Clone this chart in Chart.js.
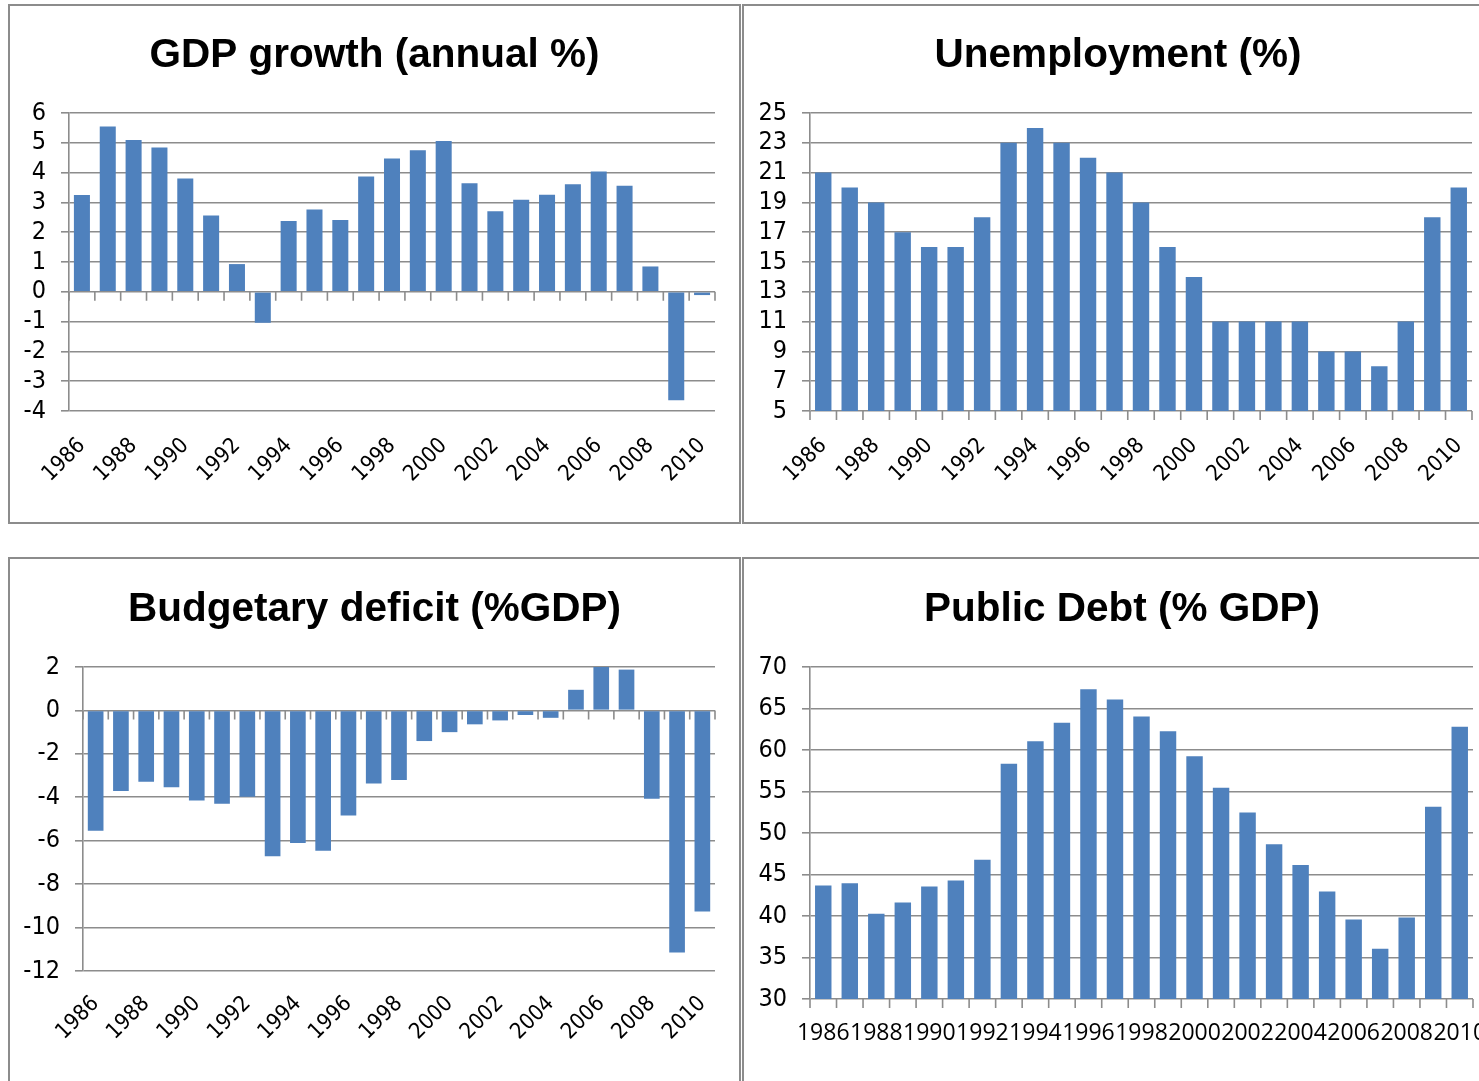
<!DOCTYPE html>
<html>
<head>
<meta charset="utf-8">
<script src="https://cdn.jsdelivr.net/npm/chart.js@4.4.1/dist/chart.umd.min.js"></script>
<style>
html,body{margin:0;padding:0;background:#fff;overflow:hidden;width:1479px;height:1081px;position:relative;}
canvas{position:absolute;}
.frame{position:absolute;border:2px solid #8c8c8c;box-sizing:border-box;pointer-events:none;}
</style>
</head>
<body>
<canvas id="c1" width="733" height="520" style="left:8px;top:4px;width:733px;height:520px"></canvas>
<canvas id="c2" width="752" height="520" style="left:742px;top:4px;width:752px;height:520px"></canvas>
<canvas id="c3" width="733" height="524" style="left:8px;top:557px;width:733px;height:524px"></canvas>
<canvas id="c4" width="760" height="524" style="left:742px;top:557px;width:760px;height:524px"></canvas>
<div class="frame" style="left:8px;top:4px;width:733px;height:520px"></div>
<div class="frame" style="left:742px;top:4px;width:760px;height:520px"></div>
<div class="frame" style="left:8px;top:557px;width:733px;height:540px"></div>
<div class="frame" style="left:742px;top:557px;width:760px;height:540px"></div>
<script>
// ---- data ----
const years = ['1986','1987','1988','1989','1990','1991','1992','1993','1994','1995','1996','1997','1998','1999','2000','2001','2002','2003','2004','2005','2006','2007','2008','2009','2010'];
const gdpGrowth = [3.25, 5.55, 5.09, 4.84, 3.80, 2.56, 0.93, -1.04, 2.38, 2.76, 2.41, 3.87, 4.47, 4.75, 5.06, 3.64, 2.70, 3.09, 3.26, 3.61, 4.04, 3.56, 0.85, -3.64, -0.11];
const unemployment = [21, 20, 19, 17, 16, 16, 18, 23, 24, 23, 22, 21, 19, 16, 14, 11, 11, 11, 11, 9, 9, 8, 11, 18, 20];
const budgetDeficit = [-5.54, -3.71, -3.29, -3.54, -4.15, -4.30, -3.98, -6.72, -6.11, -6.46, -4.84, -3.37, -3.20, -1.41, -1.00, -0.64, -0.46, -0.21, -0.34, 0.95, 2.00, 1.88, -4.07, -11.15, -9.26];
const publicDebt = [43.67, 43.95, 40.26, 41.62, 43.55, 44.27, 46.79, 58.34, 61.06, 63.27, 67.31, 66.07, 64.03, 62.26, 59.26, 55.45, 52.48, 48.64, 46.15, 42.95, 39.58, 36.05, 39.82, 53.17, 62.79];
const gdpYTicks = [-4, -3, -2, -1, 0, 1, 2, 3, 4, 5, 6];
const unempYTicks = [5, 7, 9, 11, 13, 15, 17, 19, 21, 23, 25];
const deficitYTicks = [-12, -10, -8, -6, -4, -2, 0, 2];
const debtYTicks = [30, 35, 40, 45, 50, 55, 60, 65, 70];
const titles = ['GDP growth (annual %)', 'Unemployment (%)', 'Budgetary deficit (%GDP)', 'Public Debt (% GDP)'];

// ---- styling ----
const BAR = '#4F81BD';
const GRID = '#8c8c8c';
const TICK_FONT = "'DejaVu Sans Condensed','DejaVu Sans',sans-serif";
const TITLE_FONT = "'Liberation Sans',Arial,sans-serif";

const baselineTicks = {
  id: 'baselineTicks',
  beforeDatasetsDraw(chart) {
    const xs = chart.scales.x, ys = chart.scales.y;
    const v = Math.max(ys.min, Math.min(0, ys.max));
    const base = ys.getPixelForValue(v);
    const n = chart.data.labels.length;
    const ctx = chart.ctx;
    ctx.save();
    ctx.strokeStyle = GRID;
    ctx.lineWidth = 1.6;
    ctx.beginPath();
    for (let i = 0; i <= n; i++) {
      const px = xs.left + i * xs.width / n;
      ctx.moveTo(px, base);
      ctx.lineTo(px, base + 9);
    }
    ctx.stroke();
    ctx.restore();
  }
};

function build(id, cfg) {
  const ticks = cfg.yTicks;
  return new Chart(document.getElementById(id), {
    type: 'bar',
    data: {
      labels: years,
      datasets: [{ data: cfg.values, backgroundColor: BAR, barPercentage: 0.62, categoryPercentage: 1, xAxisID: 'x', yAxisID: 'y' }]
    },
    options: {
      responsive: false,
      animation: false,
      events: [],
      layout: { padding: 0 },
      plugins: {
        legend: { display: false },
        tooltip: { enabled: false },
        title: {
          display: true, text: cfg.title, color: '#000',
          font: { family: TITLE_FONT, weight: 'bold', size: 40.5, lineHeight: 1.2 },
          padding: { top: cfg.titleTop, bottom: cfg.titleBottom }
        }
      },
      scales: {
        x: {
          type: 'category',
          offset: true,
          grid: { display: false, drawTicks: true, tickLength: cfg.xGap },
          border: { display: false },
          ticks: {
            autoSkip: false, maxRotation: cfg.rot, minRotation: cfg.rot,
            color: '#000', padding: 0, font: cfg.xFont,
            callback: (v, i) => (i % 2 === 0 ? years[i] : '')
          },
          afterFit: (s) => { s.height = cfg.xHeight; }
        },
        y: {
          position: 'left',
          min: ticks[0], max: ticks[ticks.length - 1],
          ticks: { stepSize: ticks[1] - ticks[0], autoSkip: false, color: '#000', padding: 15, font: { family: TICK_FONT, size: 25 } },
          grid: { color: GRID, lineWidth: 1.6, tickLength: 8, drawTicks: true },
          border: { display: true, color: GRID, width: 1.6 },
          afterFit: (s) => { s.width = cfg.axisLeft; }
        },
        spacer: {
          type: 'linear',
          position: 'right',
          grid: { display: false, drawTicks: false },
          border: { display: false },
          ticks: { display: false },
          afterFit: (s) => { s.width = cfg.side; }
        }
      }
    },
    plugins: [baselineTicks]
  });
}

const rotFont = { family: TICK_FONT, size: 22 };
build('c1', { values: gdpGrowth, yTicks: gdpYTicks, title: titles[0], side: 26, axisLeft: 61, xHeight: 113, titleTop: 28, titleBottom: 32.4, rot: 45, xGap: 22, xFont: rotFont });
build('c2', { values: unemployment, yTicks: unempYTicks, title: titles[1], side: 22, axisLeft: 68, xHeight: 113, titleTop: 28, titleBottom: 32.4, rot: 45, xGap: 22, xFont: rotFont });
build('c3', { values: budgetDeficit, yTicks: deficitYTicks, title: titles[2], side: 26, axisLeft: 75, xHeight: 110, titleTop: 29, titleBottom: 32.4, rot: 45, xGap: 20, xFont: rotFont });
build('c4', { values: publicDebt, yTicks: debtYTicks, title: titles[3], side: 29, axisLeft: 68, xHeight: 82, titleTop: 29, titleBottom: 32.4, rot: 0, xGap: 21, xFont: { family: "'Open Sans',sans-serif", size: 23 } });
</script>
</body>
</html>
